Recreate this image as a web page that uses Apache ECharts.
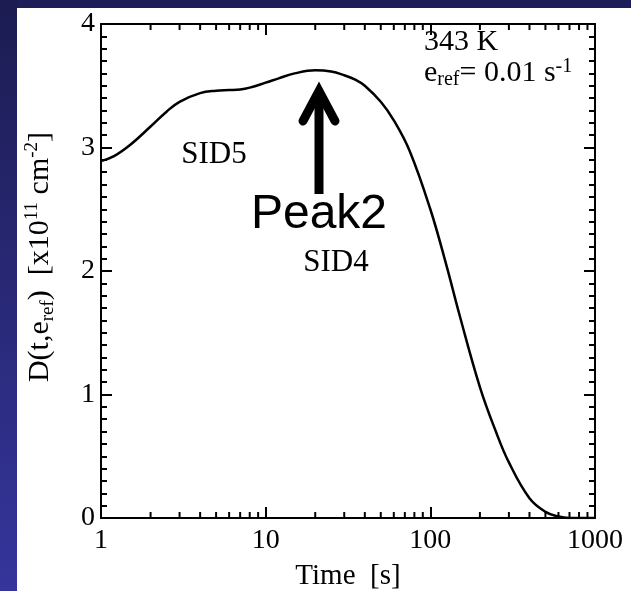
<!DOCTYPE html>
<html>
<head>
<meta charset="utf-8">
<script src="https://cdn.jsdelivr.net/npm/echarts@6/dist/echarts.min.js"></script>
<style>
html,body{margin:0;padding:0;background:#fff;}
#chart{width:631px;height:591px;}
</style>
</head>
<body>
<div id="chart"></div>
<script>
// Data
const times = [1,1.2,1.5,2,2.5,3,4,5,6,7,8,10,12,15,20,25,30,35,40,50,60,75,100,125,150,200,250,300,400,500,600,700,1000];
const dValues = [2.89,2.93,3.02,3.17,3.29,3.37,3.44,3.46,3.465,3.47,3.485,3.525,3.56,3.60,3.625,3.615,3.585,3.55,3.50,3.37,3.22,2.97,2.50,2.05,1.65,1.06,0.70,0.45,0.16,0.05,0.012,0,0];
const xMajorTicks = [1,10,100,1000];
const xMinorTicks = [2,3,4,5,6,7,8,9,20,30,40,50,60,70,80,90,200,300,400,500,600,700,800,900];
const yTicks = [0,1,2,3,4];

const serif = '"Liberation Serif","Times New Roman",serif';
const sans = '"Liberation Sans",Arial,sans-serif';

const chart = echarts.init(document.getElementById('chart'));

const axisLine = {show:true, onZero:false, lineStyle:{color:'#000', width:2}};
const tickStyle = {color:'#000', width:2};

const option = {
  animation:false,
  backgroundColor:'#fff',
  grid:{left:101, top:24, right:36, bottom:73, containLabel:false, outerBoundsMode:'none'},
  xAxis:[{
    type:'log', logBase:10, min:xMajorTicks[0], max:xMajorTicks[xMajorTicks.length-1],
    position:'bottom',
    axisLine: axisLine,
    axisTick:{show:true, inside:true, length:11, lineStyle:tickStyle},
    axisLabel:{color:'#000', fontFamily:serif, fontSize:28, margin:9,
      formatter:function(v){return String(Math.round(v));}},
    splitLine:{show:false},
    name:'Time  [s]', nameLocation:'middle', nameGap:44,
    nameTextStyle:{color:'#000', fontFamily:serif, fontSize:29}
  },{
    type:'log', logBase:10, min:xMajorTicks[0], max:xMajorTicks[xMajorTicks.length-1],
    position:'top',
    axisLine: axisLine,
    axisTick:{show:true, inside:true, length:11, lineStyle:tickStyle},
    axisLabel:{show:false},
    splitLine:{show:false}
  }],
  yAxis:[{
    type:'value', min:yTicks[0], max:yTicks[yTicks.length-1], interval:1,
    position:'left',
    axisLine: axisLine,
    axisTick:{show:true, inside:true, length:11, lineStyle:tickStyle},
    minorTick:{show:true, splitNumber:10, length:6, lineStyle:tickStyle},
    axisLabel:{color:'#000', fontFamily:serif, fontSize:28, margin:6},
    splitLine:{show:false}
  },{
    type:'value', min:yTicks[0], max:yTicks[yTicks.length-1], interval:1,
    position:'right',
    axisLine: axisLine,
    axisTick:{show:true, inside:true, length:11, lineStyle:tickStyle},
    minorTick:{show:true, splitNumber:10, length:6, lineStyle:tickStyle},
    axisLabel:{show:false},
    splitLine:{show:false}
  }],
  series:[{
    type:'line',
    xAxisIndex:0, yAxisIndex:0,
    data: times.map((t,i)=>[t, dValues[i]]),
    smooth:0.4,
    showSymbol:false,
    lineStyle:{color:'#000', width:2.5},
    z:5
  },{
    type:'custom',
    xAxisIndex:0, yAxisIndex:0,
    data: xMinorTicks.map(t=>[t, 0]),
    clip:false,
    silent:true,
    renderItem:function(params, api){
      const t = api.value(0);
      const b = api.coord([t, yTicks[0]]);
      const tp = api.coord([t, yTicks[yTicks.length-1]]);
      const st = {stroke:'#000', lineWidth:2};
      return {type:'group', children:[
        {type:'line', shape:{x1:b[0], y1:b[1], x2:b[0], y2:b[1]-6}, style:st},
        {type:'line', shape:{x1:tp[0], y1:tp[1], x2:tp[0], y2:tp[1]+6}, style:st}
      ]};
    }
  }],
  graphic:[
    // slide background strips
    {type:'rect', shape:{x:0, y:0, width:631, height:8}, style:{fill:'#1d1d57'}, silent:true},
    {type:'rect', shape:{x:0, y:0, width:17, height:591}, silent:true,
      style:{fill:new echarts.graphic.LinearGradient(0,0,0,1,[{offset:0,color:'#1c1c52'},{offset:1,color:'#35359c'}])}},
    // y axis title (rotated)
    {type:'text', x:40, y:257, rotation:Math.PI/2, style:{
      text:'{n|D(t,e}{sub|ref}{n|)  [x10}{sup|11}{n| cm}{sup|-2}{n|]}',
      textAlign:'center', textVerticalAlign:'middle',
      rich:{
        n:{fontFamily:serif, fontSize:30, color:'#000', lineHeight:36},
        sub:{fontFamily:serif, fontSize:19, color:'#000', lineHeight:36, padding:[16,0,0,0]},
        sup:{fontFamily:serif, fontSize:19, color:'#000', lineHeight:36, padding:[0,0,16,0]}
      }}},
    // annotations
    {type:'text', x:424, y:57, style:{text:'343 K', fill:'#000', font:'30px '+serif, textVerticalAlign:'bottom'}},
    {type:'text', x:424, y:90, style:{
      text:'{n|e}{sub|ref}{n|= 0.01 s}{sup|-1}', textVerticalAlign:'bottom',
      rich:{
        n:{fontFamily:serif, fontSize:30, color:'#000'},
        sub:{fontFamily:serif, fontSize:20, color:'#000', padding:[13,0,0,0]},
        sup:{fontFamily:serif, fontSize:20, color:'#000', padding:[0,0,13,0]}
      }}},
    {type:'text', x:214, y:170, style:{text:'SID5', fill:'#000', font:'31px '+serif, textAlign:'center', textVerticalAlign:'bottom'}},
    {type:'text', x:336, y:278, style:{text:'SID4', fill:'#000', font:'31px '+serif, textAlign:'center', textVerticalAlign:'bottom'}},
    {type:'text', x:319, y:239, style:{text:'Peak2', fill:'#000', font:'48px '+sans, textAlign:'center', textVerticalAlign:'bottom'}},
    // arrow
    {type:'line', shape:{x1:319, y1:194, x2:319, y2:92}, style:{stroke:'#000', lineWidth:9}},
    {type:'polyline', shape:{points:[[303,121],[319,91],[335,121]]}, style:{stroke:'#000', lineWidth:9, fill:null, lineJoin:'miter', lineCap:'round'}}
  ]
};
chart.setOption(option);
</script>
</body>
</html>
